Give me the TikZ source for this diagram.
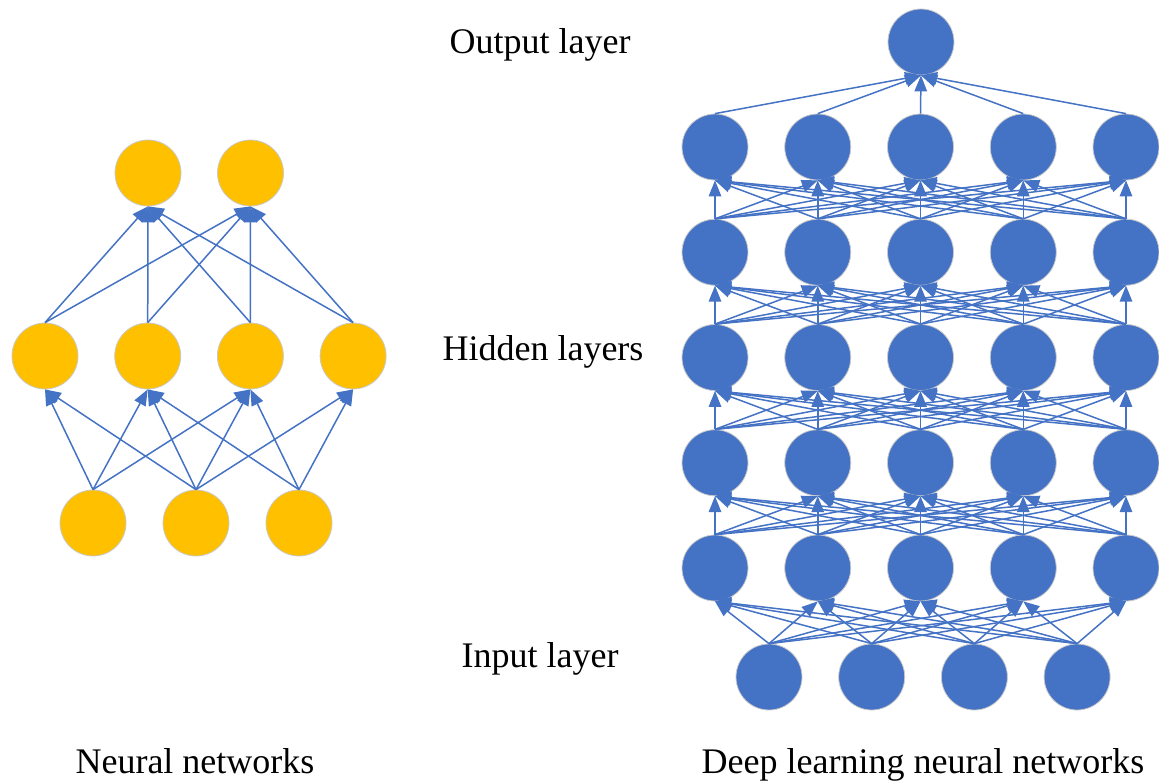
\documentclass[tikz,border=0pt]{standalone}
\usepackage{fontspec}
\setmainfont{Liberation Serif}
\usepackage{tikz}
\usetikzlibrary{arrows.meta, positioning}

\definecolor{nnyellow}{HTML}{FFC000}
\definecolor{dlblue}{HTML}{4472C4}
\definecolor{rimgray}{HTML}{C9C9C9}

\begin{document}
\begin{tikzpicture}[x=1pt, y=-1pt]
    % Define styles
    \tikzset{
        neuron/.style={circle, draw=rimgray, line width=0.8pt, minimum size=66pt, inner sep=0pt},
        yneuron/.style={neuron, fill=nnyellow},
        bneuron/.style={neuron, fill=dlblue},
        link/.style={draw=dlblue, line width=1.5pt, -{Triangle[length=16pt, width=12.5pt]}},
        layertext/.style={font=\fontsize{36}{43}\selectfont, inner sep=0pt, anchor=base}
    }
    \useasboundingbox (0,0) rectangle (1159,782);

    % Neural network (left)
    \foreach \i in {1,2,3}
        \node[yneuron] (nin\i) at ({93+103*(\i-1)}, 523) {};
    \foreach \i in {1,...,4}
        \node[yneuron] (nhid\i) at ({45+102.7*(\i-1)}, 356) {};
    \foreach \i in {1,2}
        \node[yneuron] (nout\i) at ({148+102.5*(\i-1)}, 173) {};

    \foreach \s/\t in {1/1, 1/2, 1/3, 2/1, 2/2, 2/3, 2/4, 3/2, 3/3, 3/4}
        \draw[link] (nin\s.north) -- (nhid\t.south);
    \foreach \s in {1,...,4}
        \foreach \t in {1,2}
            \draw[link] (nhid\s.north) -- (nout\t.south);

    % Deep learning network (right)
    \foreach \i in {1,...,4}
        \node[bneuron] (din\i) at ({769+102.7*(\i-1)}, 677) {};
    \foreach \l in {1,...,5}
        \foreach \i in {1,...,5}
            \node[bneuron] (dh\l-\i) at ({715+102.75*(\i-1)}, {568-105.25*(\l-1)}) {};
    \node[bneuron] (dout) at (921,42) {};

    \foreach \s in {1,...,4}
        \foreach \t in {1,...,5}
            \draw[link] (din\s.north) -- (dh1-\t.south);
    \foreach \l [evaluate=\l as \m using int(\l+1)] in {1,...,4}
        \foreach \s in {1,...,5}
            \foreach \t in {1,...,5}
                \draw[link] (dh\l-\s.north) -- (dh\m-\t.south);
    \foreach \s in {1,...,5}
        \draw[link] (dh5-\s.north) -- (dout.south);

    % Labels
    \node[layertext] (outlbl) at (540,53) {Output layer};
    \node[layertext] (hidlbl) at (543,360) {Hidden layers};
    \node[layertext] (inlbl) at (540,667) {Input layer};
    \node[layertext] (nncap) at (195,773) {Neural networks};
    \node[layertext] (dlcap) at (923,773) {Deep learning neural networks};
\end{tikzpicture}
\end{document}
